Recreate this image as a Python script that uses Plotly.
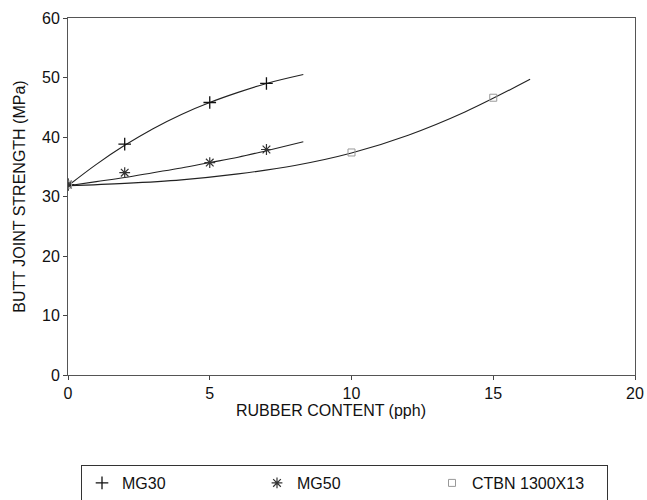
import plotly.graph_objects as go

# Measured data points
mg30_x = [0, 2, 5, 7]
mg30_y = [32.0, 38.8, 45.8, 49.0]
mg50_x = [0, 2, 5, 7]
mg50_y = [32.0, 34.0, 35.7, 37.9]
ctbn_x = [0, 10, 15]
ctbn_y = [32.0, 37.4, 46.6]

# Fitted curves
mg30_cx = [0, 1, 2, 3, 4, 5, 6, 7, 8.3]
mg30_cy = [31.8, 35.4, 38.6, 41.4, 43.8, 45.8, 47.5, 49.0, 50.5]
mg50_cx = [0, 1, 2, 3, 4, 5, 6, 7, 8.3]
mg50_cy = [31.8, 32.5, 33.2, 34.0, 34.8, 35.7, 36.6, 37.7, 39.2]
ctbn_cx = [0, 2, 4, 6, 8, 10, 12, 14, 16.3]
ctbn_cy = [31.8, 32.2, 32.8, 33.8, 35.2, 37.3, 40.3, 44.2, 49.7]

x_ticks = [0, 5, 10, 15, 20]
y_ticks = [0, 10, 20, 30, 40, 50, 60]

FONT = "Liberation Sans, Arial, sans-serif"

fig = go.Figure()
for cx, cy in [(mg30_cx, mg30_cy), (mg50_cx, mg50_cy), (ctbn_cx, ctbn_cy)]:
    fig.add_trace(go.Scatter(x=cx, y=cy, mode="lines",
                             line=dict(color="#222", width=1.1, shape="spline", smoothing=1.0),
                             showlegend=False, hoverinfo="skip"))

fig.add_trace(go.Scatter(x=mg30_x, y=mg30_y, mode="markers", name="MG30",
                         marker=dict(symbol="cross-thin", size=9, line=dict(color="#111", width=1.3))))
fig.add_trace(go.Scatter(x=mg50_x, y=mg50_y, mode="markers", name="MG50",
                         marker=dict(symbol="asterisk", size=9, line=dict(color="#333", width=1.2))))
fig.add_trace(go.Scatter(x=ctbn_x, y=ctbn_y, mode="markers", name="CTBN 1300X13",
                         marker=dict(symbol="square-open", size=7, color="#999", line=dict(width=1))))

axis_common = dict(showgrid=False, zeroline=False, showline=True, linecolor="#555", linewidth=1,
                   mirror=True, ticks="outside", ticklen=4, tickcolor="#444",
                   tickfont=dict(family=FONT, size=16, color="#111"))

fig.update_xaxes(range=[0, 20], tickvals=x_ticks, **axis_common)
fig.update_yaxes(range=[0, 60], tickvals=y_ticks, **axis_common,
                 title=dict(text="BUTT JOINT STRENGTH (MPa)", font=dict(family=FONT, size=16, color="#111"), standoff=12))

fig.update_layout(
    width=647, height=500,
    margin=dict(l=68, r=12, t=18, b=125, autoexpand=False),
    plot_bgcolor="white", paper_bgcolor="white",
    font=dict(family=FONT, color="#111"),
    legend=dict(orientation="h", xref="container", yref="container", x=81/647, y=1 - 465/500,
                xanchor="left", yanchor="top",
                bordercolor="#333", borderwidth=1, entrywidth=130, itemwidth=30,
                font=dict(family=FONT, size=16, color="#111")),
    annotations=[dict(text="RUBBER CONTENT (pph)", xref="paper", yref="paper", x=0.464, y=(375 - 410) / 357,
                      xanchor="center", yanchor="middle", showarrow=False,
                      font=dict(family=FONT, size=16, color="#111"))],
)

fig.write_html("out.html")
